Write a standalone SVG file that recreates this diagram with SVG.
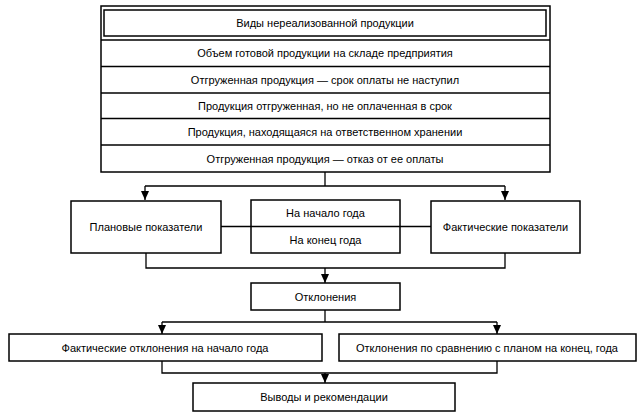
<svg xmlns="http://www.w3.org/2000/svg" width="642" height="417" viewBox="0 0 642 417">
<style>
.box{fill:#fff;stroke:#000;stroke-width:1.5}
.ln{fill:none;stroke:#000;stroke-width:1.3}
.t{font-family:"Liberation Sans",Arial,sans-serif;font-size:11px;fill:#000;text-anchor:middle;dominant-baseline:central}
</style>
<defs>
<marker id="ar" viewBox="0 0 9 8" refX="9" refY="4" markerWidth="9" markerHeight="8" markerUnits="userSpaceOnUse" orient="auto">
<path d="M0,0 L9,4 L0,8 Z" fill="#000"/>
</marker>
</defs>
<rect width="642" height="417" fill="#fff"/>
<g id="types">
<rect class="box" x="101" y="6" width="449" height="166"/>
<rect class="box" x="104" y="10" width="442" height="26"/>
<line class="ln" x1="101" y1="40" x2="550" y2="40"/>
<line class="ln" x1="101" y1="66.5" x2="550" y2="66.5"/>
<line class="ln" x1="101" y1="93" x2="550" y2="93"/>
<line class="ln" x1="101" y1="118.5" x2="550" y2="118.5"/>
<line class="ln" x1="101" y1="145" x2="550" y2="145"/>
<text class="t" x="325" y="23">Виды нереализованной продукции</text>
<text class="t" x="325" y="53">Объем готовой продукции на складе предприятия</text>
<text class="t" x="325" y="80">Отгруженная продукция — срок оплаты не наступил</text>
<text class="t" x="325" y="106">Продукция отгруженная, но не оплаченная в срок</text>
<text class="t" x="325" y="132">Продукция, находящаяся на ответственном хранении</text>
<text class="t" x="325" y="158.5">Отгруженная продукция — отказ от ее оплаты</text>
</g>
<g id="connectors">
<line class="ln" x1="325" y1="172" x2="325" y2="186"/>
<line class="ln" x1="145" y1="186" x2="505" y2="186"/>
<line class="ln" x1="145" y1="186" x2="145" y2="200" marker-end="url(#ar)"/>
<line class="ln" x1="505" y1="186" x2="505" y2="200" marker-end="url(#ar)"/>
<line class="ln" x1="221" y1="226.5" x2="431" y2="226.5"/>
<polyline class="ln" points="146,253 146,268 505,268 505,253"/>
<line class="ln" x1="325" y1="268" x2="325" y2="283" marker-end="url(#ar)"/>
<line class="ln" x1="325" y1="310" x2="325" y2="322"/>
<line class="ln" x1="162" y1="322" x2="497" y2="322"/>
<line class="ln" x1="162" y1="322" x2="162" y2="334" marker-end="url(#ar)"/>
<line class="ln" x1="497" y1="322" x2="497" y2="334" marker-end="url(#ar)"/>
<polyline class="ln" points="162,361 162,373 497,373 497,361"/>
<line class="ln" x1="325" y1="373" x2="325" y2="383" marker-end="url(#ar)"/>
</g>
<g id="plan">
<rect class="box" x="71" y="201" width="150" height="52"/>
<text class="t" x="146" y="227">Плановые показатели</text>
</g>
<g id="period">
<rect class="box" x="251" y="200" width="149" height="53"/>
<line class="ln" x1="251" y1="226.5" x2="400" y2="226.5"/>
<text class="t" x="325.5" y="213">На начало года</text>
<text class="t" x="325.5" y="240">На конец года</text>
</g>
<g id="fact">
<rect class="box" x="431" y="201" width="149" height="52"/>
<text class="t" x="505.5" y="227">Фактические показатели</text>
</g>
<g id="deviations">
<rect class="box" x="251" y="283" width="149" height="27"/>
<text class="t" x="325.5" y="297">Отклонения</text>
</g>
<g id="dev-start">
<rect class="box" x="9" y="334" width="313" height="27"/>
<text class="t" x="165" y="348">Фактические отклонения  на начало года</text>
</g>
<g id="dev-plan">
<rect class="box" x="339" y="334" width="297" height="27"/>
<text class="t" x="487" y="348">Отклонения по сравнению  с планом на конец, года</text>
</g>
<g id="conclusions">
<rect class="box" x="193" y="383" width="262" height="28"/>
<text class="t" x="324" y="397">Выводы и рекомендации</text>
</g>
</svg>
